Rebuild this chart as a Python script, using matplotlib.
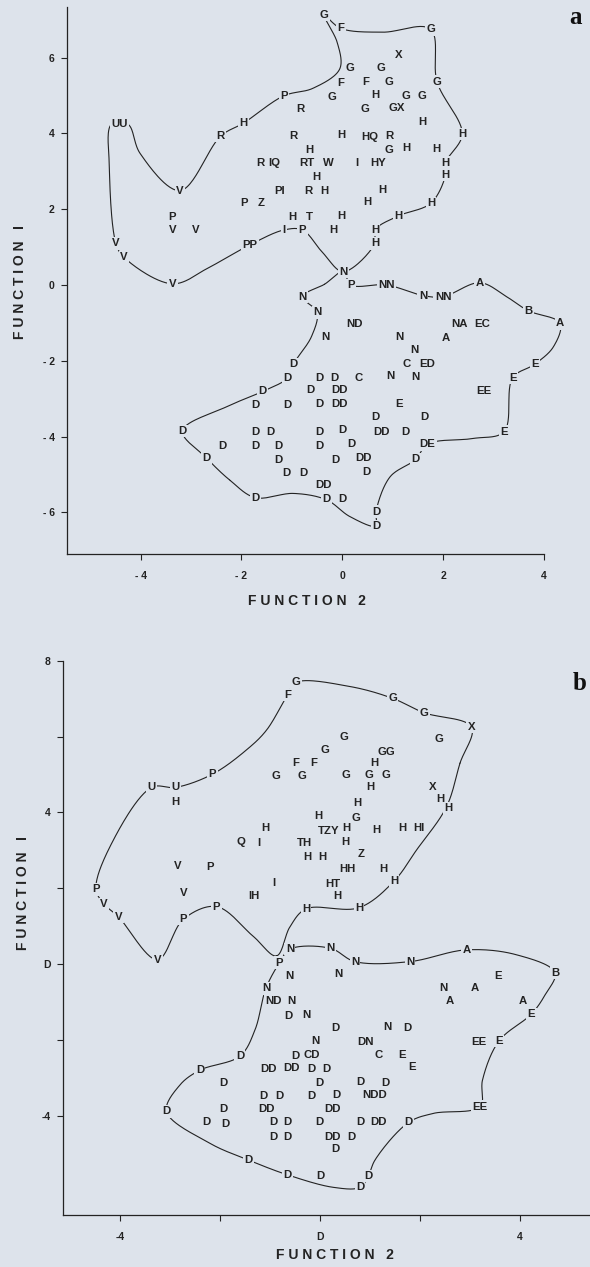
import numpy as np
import matplotlib
matplotlib.use("Agg")
import matplotlib.pyplot as plt

plt.rcParams['font.family'] = ['Liberation Sans', 'DejaVu Sans']

BG = '#dde3eb'
INK = '#232323'

# ---- panel a: group letters (label, function 2, function 1)
a_top_letters = [
    ('G', -0.36, 7.12), ('F', -0.03, 6.77), ('G', 1.75, 6.75), ('X', 1.12, 6.07),
    ('G', 0.15, 5.72), ('G', 0.76, 5.72), ('F', -0.03, 5.34), ('F', 0.46, 5.36),
    ('G', 0.93, 5.36), ('G', 1.88, 5.36), ('P', -1.16, 4.99), ('G', -0.20, 4.97),
    ('H', 0.65, 5.01), ('G', 1.26, 4.99), ('G', 1.58, 4.99), ('R', -0.83, 4.65),
    ('G', 0.45, 4.64), ('GX', 1.08, 4.66), ('UU', -4.42, 4.24), ('H', -1.96, 4.27),
    ('H', 1.59, 4.29), ('R', -2.41, 3.93), ('R', -0.97, 3.93), ('H', -0.01, 3.96),
    ('HQ', 0.55, 3.91), ('R', 0.93, 3.94), ('H', 2.38, 3.98), ('H', -0.66, 3.56),
    ('G', 0.93, 3.56), ('H', 1.28, 3.61), ('H', 1.86, 3.58), ('R', -1.63, 3.21),
    ('IQ', -1.35, 3.21), ('RT', -0.71, 3.21), ('W', -0.28, 3.21), ('I', 0.29, 3.21),
    ('HY', 0.71, 3.21), ('H', 2.05, 3.23), ('H', -0.52, 2.86), ('H', 2.05, 2.90),
    ('V', -3.22, 2.49), ('PI', -1.24, 2.49), ('R', -0.67, 2.49), ('H', -0.36, 2.49),
    ('H', 0.80, 2.51), ('P', -1.94, 2.16), ('Z', -1.61, 2.16), ('H', 0.50, 2.20),
    ('H', 1.76, 2.16), ('P', -3.37, 1.79), ('H', -1.00, 1.79), ('T', -0.65, 1.80),
    ('H', -0.01, 1.82), ('H', 1.11, 1.82), ('V', -3.37, 1.45), ('V', -2.90, 1.45),
    ('I', -1.16, 1.45), ('P', -0.79, 1.45), ('H', -0.18, 1.45), ('H', 0.65, 1.45),
    ('H', 0.65, 1.10), ('V', -4.49, 1.10), ('PP', -1.83, 1.06), ('V', -4.33, 0.73),
    ('N', 0.02, 0.35), ('V', -3.37, 0.03),
]
a_bottom_letters = [
    ('P', 0.17, 0.00), ('NN', 0.88, 0.00), ('A', 2.73, 0.06), ('N', 1.60, -0.28),
    ('NN', 2.00, -0.31), ('N', -0.79, -0.31), ('N', -0.50, -0.72), ('B', 3.69, -0.68),
    ('A', 4.32, -1.01), ('ND', 0.25, -1.04), ('NA', 2.32, -1.03), ('EC', 2.78, -1.03),
    ('N', -0.34, -1.38), ('N', 1.13, -1.38), ('A', 2.06, -1.41), ('N', 1.43, -1.72),
    ('C', 1.28, -2.08), ('ED', 1.69, -2.08), ('D', -0.97, -2.09), ('E', 3.82, -2.09),
    ('N', 0.96, -2.40), ('N', 1.46, -2.42), ('D', -1.08, -2.45), ('D', -0.46, -2.45),
    ('D', -0.16, -2.45), ('C', 0.32, -2.45), ('E', 3.38, -2.45), ('D', -1.58, -2.81),
    ('D', -0.63, -2.77), ('DD', -0.06, -2.77), ('EE', 2.81, -2.80), ('D', -1.73, -3.17),
    ('D', -1.08, -3.17), ('D', -0.46, -3.14), ('DD', -0.06, -3.14), ('E', 1.13, -3.14),
    ('D', 0.65, -3.49), ('D', 1.62, -3.49), ('D', -3.17, -3.85), ('D', -1.73, -3.87),
    ('D', -1.42, -3.87), ('D', -0.46, -3.87), ('D', 0.00, -3.83), ('DD', 0.77, -3.87),
    ('D', 1.26, -3.87), ('E', 3.21, -3.87), ('D', -2.38, -4.24), ('D', -1.73, -4.24),
    ('D', -1.26, -4.24), ('D', -0.46, -4.24), ('D', 0.19, -4.20), ('DE', 1.69, -4.20),
    ('D', -2.69, -4.57), ('D', -1.26, -4.62), ('D', -0.13, -4.62), ('DD', 0.42, -4.57),
    ('D', 1.46, -4.60), ('D', -1.10, -4.95), ('D', -0.77, -4.95), ('D', 0.48, -4.93),
    ('DD', -0.38, -5.28), ('D', -1.73, -5.61), ('D', -0.31, -5.65), ('D', 0.01, -5.65),
    ('D', 0.67, -5.98), ('D', 0.67, -6.36),
]

# outlines drawn round the two clusters of panel a
a_top_x = [0.02, -0.38, -0.79, -1.16, -1.83, -2.62, -3.37, -4.33, -4.49, -4.62, -4.58,
           -4.25, -4.01, -3.22, -2.41, -1.96, -1.16, -0.58, -0.05, -0.10, -0.36, -0.03,
           0.81, 1.75, 1.88, 2.38, 2.05, 2.05, 1.76, 1.11, 0.65, 0.65]
a_top_y = [0.35, 0.84, 1.45, 1.45, 1.06, 0.48, 0.03, 0.73, 1.10, 3.12, 4.24,
           4.24, 3.47, 2.49, 3.93, 4.27, 4.99, 5.19, 5.70, 6.40, 7.12, 6.77,
           6.67, 6.75, 5.36, 3.98, 3.23, 2.90, 2.16, 1.82, 1.45, 1.10]
a_bottom_x = [0.02, 0.17, 0.88, 1.60, 2.00, 2.73, 3.26, 3.69, 4.32, 4.19, 3.82, 3.38,
              3.21, 2.60, 1.69, 1.46, 0.95, 0.67, 0.67, 0.15, -0.31, -0.97, -1.73,
              -2.23, -2.69, -3.17, -2.29, -1.58, -1.08, -0.97, -0.61, -0.50, -0.79, -0.35]
a_bottom_y = [0.35, 0.00, 0.00, -0.28, -0.31, 0.06, -0.31, -0.68, -1.01, -1.63, -2.09, -2.45,
              -3.87, -4.05, -4.20, -4.60, -5.06, -5.98, -6.36, -6.11, -5.67, -5.50, -5.61,
              -5.15, -4.57, -3.85, -3.21, -2.81, -2.45, -2.09, -1.36, -0.72, -0.31, 0.02]

# ---- panel b
b_top_letters = [
    ('G', -0.48, 7.43), ('F', -0.65, 7.10), ('G', 1.45, 7.01), ('G', 2.08, 6.63),
    ('X', 3.03, 6.25), ('G', 0.47, 6.00), ('G', 2.37, 5.93), ('G', 0.10, 5.65),
    ('GG', 1.32, 5.60), ('F', -0.48, 5.31), ('F', -0.13, 5.31), ('H', 1.08, 5.30),
    ('P', -2.15, 5.01), ('G', -0.88, 4.96), ('G', -0.37, 4.96), ('G', 0.52, 4.99),
    ('G', 0.98, 4.99), ('G', 1.32, 4.99), ('U', -3.37, 4.66), ('U', -2.89, 4.66),
    ('H', 1.00, 4.68), ('X', 2.25, 4.68), ('H', -2.90, 4.28), ('H', 2.41, 4.36),
    ('H', 2.57, 4.11), ('H', 0.75, 4.24), ('H', -0.04, 3.92), ('G', 0.72, 3.86),
    ('H', -1.10, 3.58), ('TZY', 0.17, 3.51), ('H', 0.52, 3.58), ('H', 1.12, 3.54),
    ('H', 1.65, 3.58), ('HI', 1.97, 3.58), ('Q', -1.58, 3.23), ('I', -1.23, 3.20),
    ('TH', -0.32, 3.20), ('H', 0.50, 3.23), ('Z', 0.82, 2.91), ('H', -0.25, 2.82),
    ('H', 0.05, 2.84), ('V', -2.85, 2.59), ('P', -2.20, 2.56), ('HH', 0.55, 2.50),
    ('H', 1.27, 2.50), ('H', 1.48, 2.19), ('I', -0.92, 2.15), ('HT', 0.25, 2.11),
    ('P', -4.48, 1.98), ('V', -2.72, 1.87), ('IH', -1.33, 1.80), ('H', 0.35, 1.81),
    ('V', -4.32, 1.59), ('P', -2.07, 1.52), ('H', -0.28, 1.46), ('H', 0.78, 1.49),
    ('V', -4.03, 1.25), ('P', -2.73, 1.19), ('V', -3.25, 0.12),
]
b_bottom_letters = [
    ('N', -0.60, 0.40), ('N', 0.21, 0.42), ('A', 2.93, 0.38), ('P', -0.81, 0.04),
    ('N', 0.70, 0.07), ('N', 1.80, 0.07), ('B', 4.70, -0.22), ('N', -0.61, -0.31),
    ('N', 0.37, -0.26), ('E', 3.57, -0.31), ('N', -1.08, -0.63), ('N', 2.47, -0.62),
    ('A', 3.09, -0.63), ('ND', -0.93, -0.96), ('N', -0.58, -0.96), ('A', 2.60, -0.97),
    ('A', 4.05, -0.96), ('E', 4.23, -1.31), ('D', -0.63, -1.36), ('N', -0.28, -1.34),
    ('D', 0.31, -1.69), ('N', 1.35, -1.66), ('D', 1.75, -1.69), ('N', -0.10, -2.02),
    ('DN', 0.92, -2.04), ('EE', 3.17, -2.06), ('E', 3.58, -2.02), ('D', -1.60, -2.42),
    ('D', -0.50, -2.42), ('CD', -0.17, -2.39), ('C', 1.18, -2.39), ('E', 1.65, -2.39),
    ('E', 1.85, -2.70), ('D', -2.40, -2.79), ('DD', -1.03, -2.77), ('DD', -0.57, -2.74),
    ('D', -0.17, -2.77), ('D', 0.13, -2.77), ('D', -1.93, -3.12), ('D', -0.01, -3.12),
    ('D', 0.80, -3.09), ('D', 1.30, -3.12), ('D', -1.13, -3.47), ('D', -0.81, -3.47),
    ('D', -0.17, -3.47), ('D', 0.33, -3.44), ('NDD', 1.10, -3.44), ('D', -3.07, -3.88),
    ('D', -1.93, -3.82), ('DD', -1.07, -3.82), ('DD', 0.25, -3.82), ('EE', 3.20, -3.75),
    ('D', -2.27, -4.17), ('D', -1.90, -4.21), ('D', -0.93, -4.17), ('D', -0.65, -4.17),
    ('D', -0.01, -4.17), ('D', 0.80, -4.15), ('DD', 1.18, -4.15), ('D', 1.77, -4.17),
    ('D', -0.93, -4.54), ('D', -0.65, -4.54), ('DD', 0.25, -4.54), ('D', 0.63, -4.54),
    ('D', 0.31, -4.87), ('D', -1.43, -5.16), ('D', -0.65, -5.55), ('D', 0.00, -5.58),
    ('D', 0.97, -5.58), ('D', 0.80, -5.88),
]

b_top_x = [-0.87, -1.33, -2.07, -2.73, -3.25, -4.03, -4.32, -4.48, -4.20, -3.37, -2.89,
           -2.15, -1.47, -1.07, -0.65, -0.48, 0.60, 1.45, 2.08, 3.03, 2.80, 2.53, 1.93,
           1.48, 0.78, -0.28, -0.60]
b_top_y = [0.22, 0.73, 1.52, 1.19, 0.12, 1.25, 1.59, 1.98, 3.10, 4.66, 4.66,
           5.01, 5.65, 6.17, 7.10, 7.43, 7.32, 7.01, 6.63, 6.25, 5.30, 4.15, 3.01,
           2.19, 1.49, 1.46, 0.99]
b_bottom_x = [-0.60, 0.21, 0.70, 1.80, 2.93, 3.93, 4.70, 4.50, 4.23, 3.58, 3.25, 3.20,
              2.27, 1.77, 1.10, 0.97, 0.80, 0.27, -0.65, -1.43, -2.20, -3.07, -2.80,
              -2.40, -1.60, -1.30, -1.08, -0.81]
b_bottom_y = [0.40, 0.42, 0.07, 0.07, 0.38, 0.25, -0.22, -0.81, -1.31, -2.02, -3.05, -3.75,
              -3.93, -4.17, -5.16, -5.58, -5.88, -5.88, -5.55, -5.16, -4.72, -3.88, -3.18,
              -2.79, -2.42, -1.73, -0.63, 0.04]


def closed_curve(ax, xs, ys, m=30):
    # centripetal Catmull-Rom through the outline points, worked out in screen space
    pts = ax.transData.transform(np.column_stack([xs, ys]))
    n = len(pts)
    parts = []
    for i in range(n):
        p0, p1, p2, p3 = pts[(i - 1) % n], pts[i], pts[(i + 1) % n], pts[(i + 2) % n]
        t0 = 0.0
        t1 = t0 + np.hypot(*(p1 - p0)) ** 0.5
        t2 = t1 + np.hypot(*(p2 - p1)) ** 0.5
        t3 = t2 + np.hypot(*(p3 - p2)) ** 0.5
        t = np.linspace(t1, t2, m)[:, None]
        a1 = (t1 - t) / (t1 - t0) * p0 + (t - t0) / (t1 - t0) * p1
        a2 = (t2 - t) / (t2 - t1) * p1 + (t - t1) / (t2 - t1) * p2
        a3 = (t3 - t) / (t3 - t2) * p2 + (t - t2) / (t3 - t2) * p3
        b1 = (t2 - t) / (t2 - t0) * a1 + (t - t0) / (t2 - t0) * a2
        b2 = (t3 - t) / (t3 - t1) * a2 + (t - t1) / (t3 - t1) * a3
        parts.append((t2 - t) / (t2 - t1) * b1 + (t - t1) / (t2 - t1) * b2)
    curve = ax.transData.inverted().transform(np.vstack(parts))
    ax.plot(curve[:, 0], curve[:, 1], color=INK, lw=0.8, zorder=1)


def put_letters(ax, letters):
    for lab, x, y in letters:
        ax.text(x, y, lab, ha='center', va='center', fontsize=8.2, fontweight='bold',
                color=INK, zorder=3,
                bbox=dict(boxstyle='square,pad=0.12', fc=BG, ec='none'))


def style_axes(ax):
    ax.set_facecolor(BG)
    for side in ('top', 'right'):
        ax.spines[side].set_visible(False)
    for side in ('left', 'bottom'):
        ax.spines[side].set_color(INK)
        ax.spines[side].set_linewidth(0.9)
    ax.tick_params(direction='out', length=4, width=0.8, color=INK, labelcolor=INK,
                   labelsize=7.5)
    for lab in ax.get_xticklabels() + ax.get_yticklabels():
        lab.set_fontweight('bold')


fig = plt.figure(figsize=(5.9, 12.67), dpi=100, facecolor=BG)

# panel a
ax_a = fig.add_axes([0.1136, 0.5627, 0.8864, 0.4318])
ax_a.set_xlim(-5.46, 4.915)
ax_a.set_ylim(-7.10, 7.335)
ax_a.set_xticks([-4, -2, 0, 2, 4], ['- 4', '- 2', '0', '2', '4'])
ax_a.set_yticks([-6, -4, -2, 0, 2, 4, 6], ['- 6', '- 4', '- 2', '0', '2', '4', '6'])
style_axes(ax_a)
ax_a.tick_params(axis='x', pad=8)
ax_a.tick_params(axis='y', pad=5)
ax_a.spines['bottom'].set_bounds(-5.46, 4)
closed_curve(ax_a, a_top_x, a_top_y)
closed_curve(ax_a, a_bottom_x, a_bottom_y)
put_letters(ax_a, a_top_letters)
put_letters(ax_a, a_bottom_letters)

# panel b
ax_b = fig.add_axes([0.1076, 0.0410, 0.8924, 0.4405])
ax_b.set_xlim(-5.13, 5.4)
ax_b.set_ylim(-6.61, 8.10)
ax_b.set_xticks([-4, -2, 0, 2, 4], ['-4', '', 'D', '', '4'])
ax_b.set_yticks([-4, -2, 0, 2, 4, 6, 8], ['-4', '', 'D', '', '4', '', '8'])
style_axes(ax_b)
ax_b.tick_params(axis='x', pad=8)
ax_b.tick_params(axis='y', pad=5)
ax_b.spines['left'].set_bounds(-6.61, 8)
closed_curve(ax_b, b_top_x, b_top_y)
closed_curve(ax_b, b_bottom_x, b_bottom_y)
put_letters(ax_b, b_top_letters)
put_letters(ax_b, b_bottom_letters)

axis_font = dict(fontsize=10, fontweight='bold', color=INK, ha='center', va='center')
fig.text(20 / 590, 1 - 282 / 1267, 'F U N C T I O N   I', rotation=90, **axis_font)
fig.text(307 / 590, 1 - 601 / 1267, 'F U N C T I O N   2', **axis_font)
fig.text(23 / 590, 1 - 893 / 1267, 'F U N C T I O N   I', rotation=90, **axis_font)
fig.text(335 / 590, 1 - 1255 / 1267, 'F U N C T I O N   2', **axis_font)

panel_font = dict(family=['Liberation Serif', 'DejaVu Serif'], fontsize=18,
                  fontweight='bold', color='#111111', ha='center', va='center')
fig.text(576 / 590, 1 - 17 / 1267, 'a', **panel_font)
fig.text(580 / 590, 1 - 683 / 1267, 'b', **panel_font)

fig.savefig('out.png', dpi=100, facecolor=BG)
